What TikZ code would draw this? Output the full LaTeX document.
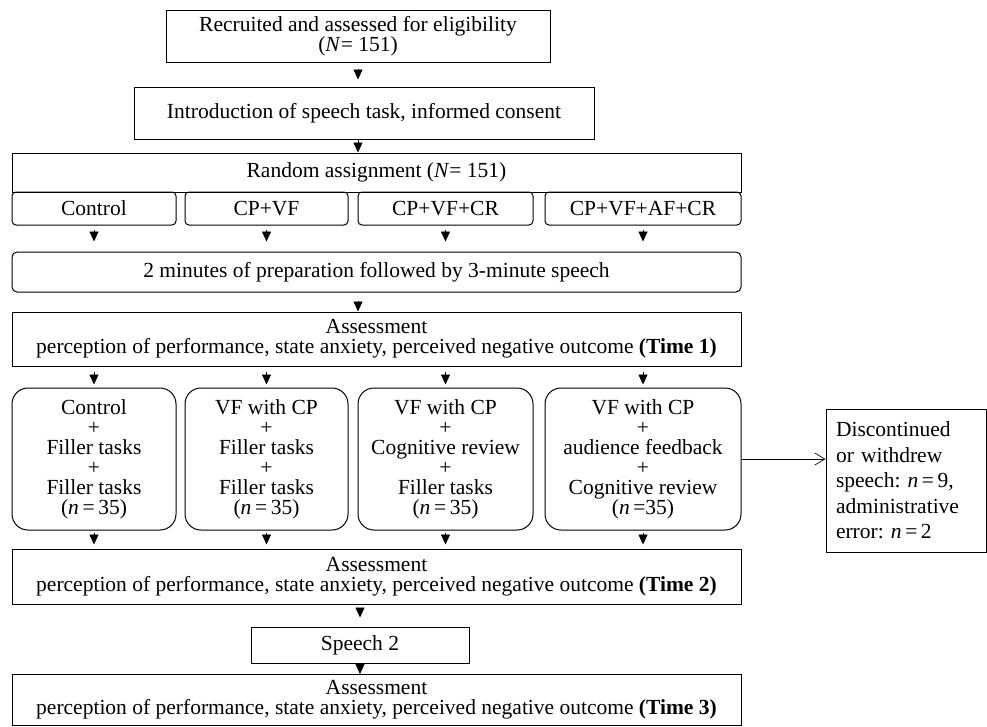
\documentclass[tikz,border=0pt]{standalone}
\usepackage{fontspec}
\setmainfont{Liberation Serif}
\frenchspacing
\usetikzlibrary{arrows.meta, positioning}
\tikzstyle{flow}=[>={Triangle[width=9pt,length=10pt]}, line width=0.8pt, x=1pt, y=-1pt, font=\fontsize{21.5}{20}\selectfont]
\tikzstyle{box}=[draw, line width=1pt, align=center, inner sep=0pt]
\tikzstyle{wide}=[box, minimum width=729pt]
\tikzstyle{arm}=[box, rounded corners=4pt, minimum height=33pt]
\tikzstyle{group}=[box, rounded corners=16pt, minimum height=142pt]
\tikzstyle{go}=[->, shorten <=5pt, shorten >=3pt]

\begin{document}
\begin{tikzpicture}[flow]
  \useasboundingbox (0,0) rectangle (987,726);
  \node[box, minimum width=384pt, minimum height=52pt] (recruit) at (358,36) {Recruited and assessed for eligibility\\(\textit{N}= 151)};
  \node[box, minimum width=460pt, minimum height=52pt] (intro) at (364,113) {Introduction of speech task, informed consent};
  \node[wide, minimum height=39pt] (assign) at (376.5,172.5) {Random assignment (\textit{N}= 151)};
  \node[arm, minimum width=164pt] (ctl) at (94,208.5) {Control};
  \node[arm, minimum width=163pt] (vf) at (266.5,208.5) {CP+VF};
  \node[arm, minimum width=175pt] (cr) at (445.5,208.5) {CP+VF+CR};
  \node[arm, minimum width=196pt] (af) at (643,208.5) {CP+VF+AF+CR};
  \node[wide, rounded corners=5pt, minimum height=40pt] (prep) at (376.5,272) {2 minutes of preparation followed by 3-minute speech};
  \node[wide, minimum height=54pt] (time1) at (376.5,339) {Assessment\\perception of performance, state anxiety, perceived negative outcome \textbf{(Time 1)}};
  % the four arms after the first speech
  \node[group, minimum width=164pt] (ctlg) at (94,459) {Control\\+\\Filler tasks\\+\\Filler tasks\\(\textit{n}\,=\,35)};
  \node[group, minimum width=163pt] (vfg) at (266.5,459) {VF with CP\\+\\Filler tasks\\+\\Filler tasks\\(\textit{n}\,=\,35)};
  \node[group, minimum width=175pt] (crg) at (445.5,459) {VF with CP\\+\\Cognitive review\\+\\Filler tasks\\(\textit{n}\,=\,35)};
  \node[group, minimum width=196pt] (afg) at (643,459) {VF with CP\\+\\audience feedback\\+\\Cognitive review\\(\textit{n}\,=35)};
  \node[box, align=left, text width=140pt, inner xsep=10pt, minimum height=143pt, font=\fontsize{21.5}{25.5}\selectfont] (drop) at (906,480.5) {Discontinued or withdrew speech: \textit{n}\,=\,9, administrative error: \textit{n}\,=\,2};
  \node[wide, minimum height=55pt] (time2) at (376.5,576.5) {Assessment\\perception of performance, state anxiety, perceived negative outcome \textbf{(Time 2)}};
  \node[box, minimum width=218pt, minimum height=36pt] (speech) at (360,645) {Speech 2};
  \node[wide, minimum height=51pt] (time3) at (376.5,700) {Assessment\\perception of performance, state anxiety, perceived negative outcome \textbf{(Time 3)}};

  \draw[go, shorten <=6pt, shorten >=7pt] (recruit.south) -- (intro.north -| recruit.south);
  \draw[go, shorten <=0pt, shorten >=0pt] (intro.south -| recruit) -- (assign.north -| recruit);
  \foreach \arm in {ctl,vf,cr,af} {
    \draw[go, shorten <=4pt, shorten >=10pt] (\arm.south) -- (prep.north -| \arm.south);
    \draw[go] (time1.south -| \arm) -- (\arm g.north);
    \draw[go, shorten <=2pt, shorten >=4pt] (\arm g.south) -- (time2.north -| \arm g);
  }
  \draw[go, shorten <=8pt, shorten >=0pt] (prep.south -| recruit) -- (time1.north -| recruit);
  \draw[go, shorten <=3pt, shorten >=9pt] (time2.south -| speech) -- (speech.north);
  \draw[go, shorten <=0pt, shorten >=0pt] (speech.south) -- (time3.north -| speech);
  \draw[->, line width=0.7pt, >={Straight Barb[length=10pt,width=12pt]}] (afg.east) -- (afg.east -| drop.west);
\end{tikzpicture}
\end{document}
